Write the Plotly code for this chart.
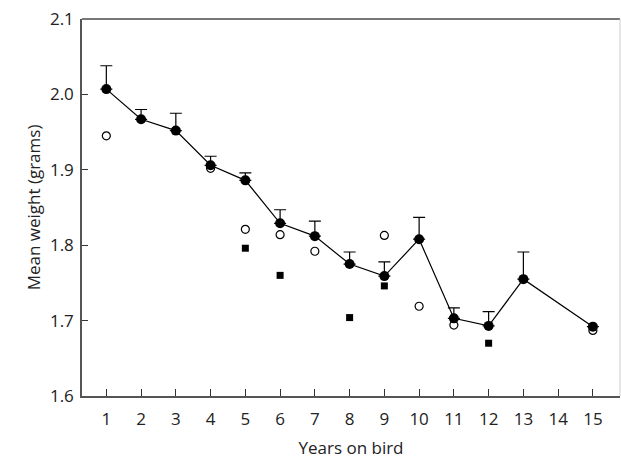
import plotly.graph_objects as go

years = list(range(1, 16))
mean_x = [1, 2, 3, 4, 5, 6, 7, 8, 9, 10, 11, 12, 13, 15]
mean_w = [2.007, 1.967, 1.952, 1.906, 1.886, 1.829, 1.812, 1.775, 1.759, 1.808, 1.703, 1.693, 1.755, 1.692]
err_up = [0.031, 0.013, 0.023, 0.012, 0.010, 0.018, 0.020, 0.016, 0.019, 0.029, 0.014, 0.019, 0.036, 0.0]

open_x = [1, 4, 5, 6, 7, 9, 10, 11, 15]
open_w = [1.945, 1.902, 1.821, 1.814, 1.792, 1.813, 1.719, 1.694, 1.687]

sq_x = [5, 6, 8, 9, 12]
sq_w = [1.796, 1.760, 1.704, 1.746, 1.670]

y_ticks = [1.6, 1.7, 1.8, 1.9, 2.0, 2.1]
y_labels = ["1.6", "1.7", "1.8", "1.9", "2.0", "2.1"]

fig = go.Figure()
fig.add_trace(go.Scatter(
    x=open_x, y=open_w, mode="markers",
    marker=dict(symbol="circle-open", size=8, color="black", line=dict(width=1.2)),
    showlegend=False))
fig.add_trace(go.Scatter(
    x=sq_x, y=sq_w, mode="markers",
    marker=dict(symbol="square", size=7, color="black"),
    showlegend=False))
fig.add_trace(go.Scatter(
    x=mean_x, y=mean_w, mode="lines+markers",
    line=dict(color="black", width=1.2),
    marker=dict(symbol="circle", size=10, color="black"),
    error_y=dict(type="data", symmetric=False, array=err_up,
                 arrayminus=[0] * len(err_up), color="black",
                 thickness=1.2, width=6),
    showlegend=False))

font = "Open Sans, Noto Sans, sans-serif"
fig.update_layout(
    width=621, height=459,
    margin=dict(l=82, r=1, t=19, b=63),
    plot_bgcolor="white", paper_bgcolor="white",
    font=dict(family=font, size=17, color="#222"),
    xaxis=dict(range=[0.3, 15.78], tickmode="array", tickvals=years,
               ticktext=[str(v) for v in years],
               ticks="inside", ticklen=7, tickcolor="#333", tickwidth=1.2,
               ticklabelstandoff=7,
               showline=True, linecolor="#555", linewidth=1.5,
               showgrid=False, zeroline=False,
               title=dict(text="Years on bird", standoff=13,
                          font=dict(size=17))),
    yaxis=dict(range=[1.6, 2.1], tickmode="array", tickvals=y_ticks,
               ticktext=y_labels,
               ticks="inside", ticklen=6, tickcolor="#333", tickwidth=1.2,
               ticklabelstandoff=3,
               showline=True, linecolor="#555", linewidth=1.5,
               showgrid=False, zeroline=False,
               title=dict(text="Mean weight (grams)", standoff=5,
                          font=dict(size=17,
                                    family="Liberation Sans Narrow, Open Sans, sans-serif"))),
    shapes=[
        dict(type="line", xref="paper", yref="paper", x0=0, x1=1, y0=1, y1=1,
             line=dict(color="#777", width=2)),
        dict(type="line", xref="paper", yref="paper", x0=1, x1=1, y0=0, y1=1,
             line=dict(color="#ccc", width=1)),
    ],
)

fig.write_html("out.html")
